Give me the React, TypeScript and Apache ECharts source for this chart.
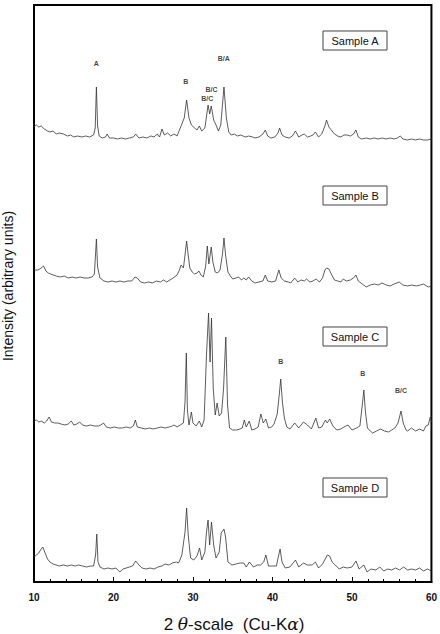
import React, { useEffect, useRef } from "react";
import * as echarts from "echarts";

// 2θ (degrees) vs intensity (arbitrary units) for each sample
const sampleA: [number, number][] = [
  [10.0, 15], [10.3, 17], [10.6, 15], [10.9, 16], [11.3, 13], [11.7, 11], [12.0, 10], [12.4, 11], [12.8, 8], [13.2, 9],
  [13.7, 8], [14.2, 6], [14.6, 7], [15.0, 5], [15.5, 6], [16.0, 5], [16.5, 6], [17.0, 5], [17.5, 7], [17.7, 14],
  [17.85, 55], [18.0, 16], [18.2, 6], [18.6, 4], [19.0, 5], [19.2, 8], [19.5, 4], [20.0, 4], [20.5, 3], [21.0, 4],
  [21.5, 3], [22.0, 4], [22.5, 5], [22.8, 8], [23.2, 4], [23.7, 5], [24.2, 4], [24.7, 6], [25.1, 5], [25.5, 8],
  [25.8, 5], [26.1, 13], [26.4, 7], [26.8, 9], [27.2, 6], [27.6, 8], [28.0, 6], [28.3, 12], [28.6, 18], [28.9, 24],
  [29.2, 42], [29.5, 24], [29.8, 17], [30.2, 14], [30.5, 12], [30.8, 16], [31.1, 11], [31.5, 14], [31.9, 37], [32.1, 28],
  [32.3, 36], [32.6, 22], [32.9, 17], [33.2, 11], [33.5, 17], [33.9, 55], [34.2, 24], [34.5, 10], [34.8, 7], [35.2, 8],
  [35.6, 6], [36.0, 7], [36.6, 5], [37.0, 6], [37.5, 5], [37.8, 4], [38.3, 5], [38.8, 8], [39.1, 12], [39.4, 6],
  [39.8, 4], [40.3, 5], [40.7, 9], [40.9, 14], [41.2, 7], [41.6, 5], [42.1, 4], [42.5, 6], [42.9, 11], [43.3, 5],
  [43.7, 7], [44.0, 8], [44.4, 5], [44.8, 6], [45.1, 7], [45.4, 10], [45.8, 5], [46.2, 8], [46.6, 16], [46.8, 22],
  [47.1, 15], [47.4, 12], [47.8, 8], [48.2, 6], [48.6, 5], [49.0, 7], [49.4, 7], [49.8, 6], [50.2, 8], [50.5, 12],
  [50.8, 5], [51.2, 3], [51.8, 4], [52.3, 3], [52.8, 4], [53.3, 3], [53.8, 4], [54.3, 3], [54.8, 4], [55.3, 3],
  [55.7, 4], [56.1, 6], [56.4, 3], [57.0, 2], [57.5, 3], [58.0, 2], [58.5, 3], [59.0, 2], [59.5, 2], [60.0, 3],
];

const sampleB: [number, number][] = [
  [10.0, 17], [10.5, 17], [10.9, 19], [11.2, 21], [11.5, 16], [11.8, 14], [12.4, 12], [12.8, 11], [13.3, 10], [13.8, 11],
  [14.3, 9], [14.8, 10], [15.3, 9], [15.8, 10], [16.3, 9], [16.8, 9], [17.3, 10], [17.6, 13], [17.85, 48], [18.0, 20],
  [18.3, 9], [18.8, 6], [19.3, 5], [19.8, 6], [20.3, 5], [20.8, 6], [21.3, 5], [21.8, 6], [22.3, 6], [22.7, 10],
  [23.0, 9], [23.4, 5], [23.9, 4], [24.4, 5], [24.9, 4], [25.4, 6], [25.9, 5], [26.3, 7], [26.7, 5], [27.1, 7],
  [27.5, 9], [28.0, 12], [28.3, 17], [28.5, 22], [28.8, 19], [29.0, 32], [29.2, 46], [29.4, 32], [29.6, 19], [29.9, 15],
  [30.2, 13], [30.5, 14], [30.75, 16], [31.0, 12], [31.3, 10], [31.6, 21], [31.8, 41], [32.0, 23], [32.3, 40], [32.5, 25],
  [32.8, 15], [33.1, 14], [33.4, 17], [33.7, 32], [33.9, 49], [34.1, 32], [34.4, 15], [34.7, 11], [35.0, 8], [35.4, 9],
  [35.75, 10], [36.1, 7], [36.4, 9], [36.7, 7], [37.0, 10], [37.4, 6], [37.8, 4], [38.3, 5], [38.8, 6], [39.1, 12],
  [39.4, 6], [39.9, 5], [40.4, 6], [40.8, 17], [41.1, 9], [41.5, 6], [42.0, 5], [42.3, 4], [42.8, 9], [43.2, 5],
  [43.6, 7], [44.0, 6], [44.3, 8], [44.7, 5], [45.1, 6], [45.5, 8], [45.9, 5], [46.3, 9], [46.6, 17], [46.8, 19],
  [47.1, 18], [47.4, 13], [47.8, 7], [48.2, 6], [48.6, 5], [48.9, 8], [49.3, 6], [49.8, 7], [50.2, 9], [50.5, 12],
  [50.8, 6], [51.3, 3], [51.8, 0], [52.3, 2], [52.8, 3], [53.3, 2], [53.8, 4], [54.3, 2], [54.8, 1], [55.3, 3],
  [55.95, 5], [56.4, 2], [57.0, 1], [57.5, 2], [58.1, 1], [58.6, 2], [59.0, 3], [59.6, 0], [60.0, 1],
];

const sampleC: [number, number][] = [
  [10.0, 13], [10.3, 14], [10.6, 12], [10.9, 13], [11.3, 11], [11.6, 13], [11.9, 17], [12.2, 12], [12.6, 11], [13.0, 11],
  [13.4, 10], [13.9, 9], [14.3, 10], [14.7, 13], [15.0, 9], [15.4, 10], [15.75, 12], [16.1, 9], [16.6, 8], [17.1, 9],
  [17.6, 8], [18.1, 8], [18.4, 9], [18.75, 11], [19.1, 7], [19.6, 6], [20.1, 7], [20.6, 6], [21.1, 6], [21.6, 7],
  [22.1, 6], [22.5, 8], [22.75, 14], [23.0, 7], [23.5, 6], [24.0, 5], [24.5, 6], [25.0, 5], [25.5, 6], [26.0, 7],
  [26.5, 6], [27.0, 7], [27.4, 8], [27.6, 9], [28.0, 7], [28.4, 9], [28.8, 11], [29.0, 32], [29.16, 81], [29.3, 24],
  [29.5, 9], [29.8, 22], [30.0, 11], [30.4, 8], [30.8, 13], [31.1, 7], [31.4, 14], [31.7, 79], [31.96, 121], [32.15, 72],
  [32.33, 116], [32.55, 46], [32.8, 19], [33.04, 31], [33.3, 18], [33.6, 21], [33.85, 46], [34.13, 97], [34.35, 29], [34.6, 6],
  [35.0, 4], [35.5, 4], [35.9, 5], [36.2, 6], [36.46, 14], [36.7, 7], [37.08, 13], [37.4, 4], [37.8, 5], [38.2, 7],
  [38.54, 20], [38.85, 11], [39.17, 15], [39.5, 6], [39.9, 7], [40.2, 10], [40.6, 20], [40.85, 39], [41.04, 55], [41.25, 32],
  [41.5, 16], [41.8, 7], [42.2, 5], [42.8, 11], [43.3, 6], [43.9, 12], [44.4, 9], [44.9, 5], [45.46, 16], [45.8, 6],
  [46.2, 7], [46.67, 14], [46.9, 11], [47.2, 15], [47.6, 8], [48.1, 4], [48.6, 5], [49.0, 7], [49.5, 9], [50.0, 4],
  [50.6, 6], [51.0, 8], [51.3, 29], [51.5, 44], [51.7, 22], [51.95, 6], [52.3, 3], [52.6, 1], [53.1, 3], [53.6, 5],
  [54.1, 3], [54.6, 2], [55.0, 4], [55.4, 6], [55.8, 11], [56.17, 23], [56.45, 11], [56.8, 4], [57.0, 3], [57.5, 6],
  [58.0, 3], [58.5, 5], [59.0, 3], [59.3, 8], [59.6, 9], [59.85, 17], [60.0, 12],
];

const sampleD: [number, number][] = [
  [10.0, 17], [10.3, 19], [10.6, 21], [10.9, 25], [11.1, 27], [11.4, 21], [11.7, 15], [12.0, 12], [12.4, 10], [12.8, 9],
  [13.2, 8], [13.7, 9], [14.2, 8], [14.7, 9], [15.2, 8], [15.6, 9], [16.1, 8], [16.6, 7], [17.1, 8], [17.5, 8],
  [17.75, 19], [17.9, 40], [18.05, 12], [18.3, 7], [18.8, 5], [19.3, 6], [19.8, 5], [20.3, 6], [20.8, 2], [21.2, 5],
  [21.6, 6], [22.0, 7], [22.4, 8], [22.8, 13], [23.2, 9], [23.6, 6], [24.1, 5], [24.6, 6], [25.1, 5], [25.6, 7],
  [26.1, 8], [26.5, 10], [27.0, 9], [27.4, 11], [27.9, 12], [28.2, 11], [28.6, 19], [29.0, 42], [29.2, 66], [29.4, 39],
  [29.7, 16], [30.1, 14], [30.5, 18], [30.83, 26], [31.1, 14], [31.5, 22], [31.7, 42], [31.9, 54], [32.1, 29], [32.33, 52],
  [32.6, 29], [32.9, 16], [33.3, 22], [33.55, 41], [33.9, 45], [34.1, 37], [34.4, 12], [34.9, 9], [35.4, 10], [35.9, 11],
  [36.4, 11], [36.7, 7], [37.1, 12], [37.6, 7], [38.1, 9], [38.5, 9], [38.9, 12], [39.17, 19], [39.5, 8], [40.0, 8],
  [40.5, 8], [40.7, 16], [40.96, 25], [41.2, 12], [41.6, 6], [42.2, 7], [42.9, 14], [43.3, 7], [43.9, 11], [44.4, 9],
  [45.0, 9], [45.4, 12], [45.8, 6], [46.3, 10], [46.9, 19], [47.2, 18], [47.5, 12], [47.9, 9], [48.4, 5], [48.9, 7],
  [49.4, 6], [50.0, 7], [50.5, 13], [50.9, 5], [51.5, 9], [51.9, 2], [52.4, 5], [53.0, 4], [53.5, 7], [54.0, 3],
  [54.5, 5], [55.0, 4], [55.5, 6], [56.0, 4], [56.5, 7], [57.0, 4], [57.5, 5], [58.0, 4], [58.5, 6], [59.0, 3],
  [59.5, 5], [60.0, 3],
];

const sampleNames = ["Sample A", "Sample B", "Sample C", "Sample D"];
const sampleData = [sampleA, sampleB, sampleC, sampleD];
// vertical stacking offsets of the patterns (arbitrary units)
const stackOffsets = [440, 295, 148, 8];

// phase labels: [2θ, stacked height, text]
const peakLabelsA: [number, number, string][] = [
  [17.84, 519, "A"],
  [29.09, 501, "B"],
  [32.34, 493, "B/C"],
  [31.79, 484, "B/C"],
  [33.88, 524, "B/A"],
];
const peakLabelsC: [number, number, string][] = [
  [41.04, 221, "B"],
  [51.35, 209, "B"],
  [56.16, 192, "B/C"],
];

const xTicks = { min: 10, max: 60, interval: 10 };

const FONT = "'Liberation Sans', Arial, Helvetica, sans-serif";

export default function App() {
  const ref = useRef<HTMLDivElement>(null);

  useEffect(() => {
    document.body.style.margin = "0";
    if (!ref.current) return;
    const chart = echarts.init(ref.current, undefined, { renderer: "svg" });

    const lineSeries = sampleData.map((d, i) => ({
      name: sampleNames[i],
      type: "line",
      data: d.map(([t, v]) => [t, v + stackOffsets[i]]),
      showSymbol: false,
      symbol: "none",
      silent: true,
      lineStyle: { color: "#333", width: 0.8 },
      z: 3,
    }));

    const labelSeries = {
      type: "scatter",
      symbolSize: 1,
      silent: true,
      itemStyle: { color: "rgba(0,0,0,0)" },
      label: {
        show: true,
        position: "inside",
        formatter: "{b}",
        fontSize: 7,
        fontWeight: "bold",
        fontFamily: FONT,
        color: "#111",
      },
      data: [...peakLabelsA, ...peakLabelsC].map(([t, y, s]) => ({ name: s, value: [t, y] })),
      z: 4,
    };

    const boxTops = [31, 186, 327, 478];
    const boxes: any[] = [];
    sampleNames.forEach((n, i) => {
      boxes.push({
        type: "rect",
        shape: { x: 323, y: boxTops[i], width: 64, height: 19 },
        style: { fill: "#fff", stroke: "#444", lineWidth: 1 },
        z: 10,
      });
      boxes.push({
        type: "text",
        x: 355,
        y: boxTops[i] + 9.5,
        style: {
          text: n,
          fontSize: 11,
          fontFamily: FONT,
          fill: "#111",
          align: "center",
          verticalAlign: "middle",
          textAlign: "center",
          textVerticalAlign: "middle",
        },
        z: 11,
      });
    });

    chart.setOption({
      animation: false,
      backgroundColor: "#fff",
      grid: {
        left: 34,
        right: 6,
        top: 5,
        bottom: 52,
        show: true,
        borderColor: "#000",
        borderWidth: 2,
        backgroundColor: "transparent",
      },
      xAxis: {
        type: "value",
        min: xTicks.min,
        max: xTicks.max,
        interval: xTicks.interval,
        axisLine: { show: true, lineStyle: { color: "#000", width: 2 } },
        axisTick: { show: true, inside: true, length: 5, lineStyle: { color: "#000", width: 1 } },
        minorTick: { show: true, splitNumber: 5, length: 3, lineStyle: { color: "#000", width: 1 } },
        splitLine: { show: false },
        axisLabel: {
          color: "#111",
          fontSize: 10,
          fontWeight: "bold",
          fontFamily: FONT,
          margin: 10,
        },
      },
      yAxis: { type: "value", min: 0, max: 577, show: false },
      series: [...lineSeries, labelSeries],
      graphic: [
        ...boxes,
        {
          type: "text",
          x: 8,
          y: 286,
          rotation: Math.PI / 2,
          style: {
            text: "Intensity (arbitrary units)",
            fontSize: 14,
            fontFamily: FONT,
            fill: "#111",
            align: "center",
            verticalAlign: "middle",
            textAlign: "center",
            textVerticalAlign: "middle",
          },
        },
        {
          type: "text",
          x: 234,
          y: 624,
          style: {
            text: "{n|2 }{i|θ}{n|-scale  (Cu-K}{i|α}{n|)}",
            rich: {
              n: { fontSize: 17, fontFamily: FONT, fill: "#111" },
              i: { fontSize: 17, fontFamily: "'DejaVu Serif', serif", fontStyle: "italic", fill: "#111" },
            },
            fill: "#111",
            align: "center",
            verticalAlign: "middle",
            textAlign: "center",
            textVerticalAlign: "middle",
          },
        },
      ],
    });

    return () => chart.dispose();
  }, []);

  return (
    <div
      ref={ref}
      style={{ width: 440, height: 634, position: "absolute", left: 0, top: 0, background: "#fff" }}
    />
  );
}
